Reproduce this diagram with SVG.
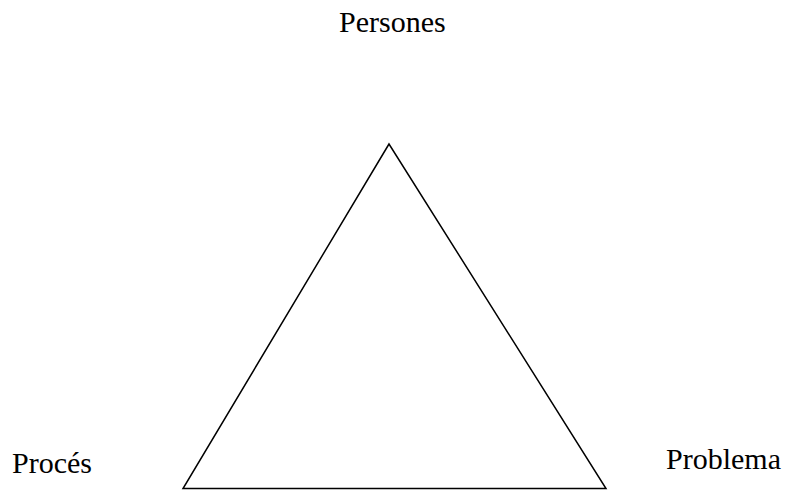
<svg xmlns="http://www.w3.org/2000/svg" width="785" height="490" viewBox="0 0 785 490">
<style>
.lbl{font-family:"Liberation Serif","Times New Roman",serif;font-size:30px;fill:#000}
.tri{fill:none;stroke:#000;stroke-width:1.5}
</style>
<rect width="785" height="490" fill="#fff"/>
<g id="connectors">
<polygon class="tri" points="389,144 183,488.5 606,488.5"/>
</g>
<g id="persones"><text class="lbl" x="339" y="32">Persones</text></g>
<g id="proces"><text class="lbl" x="12" y="473">Procés</text></g>
<g id="problema"><text class="lbl" x="666" y="469">Problema</text></g>
</svg>
